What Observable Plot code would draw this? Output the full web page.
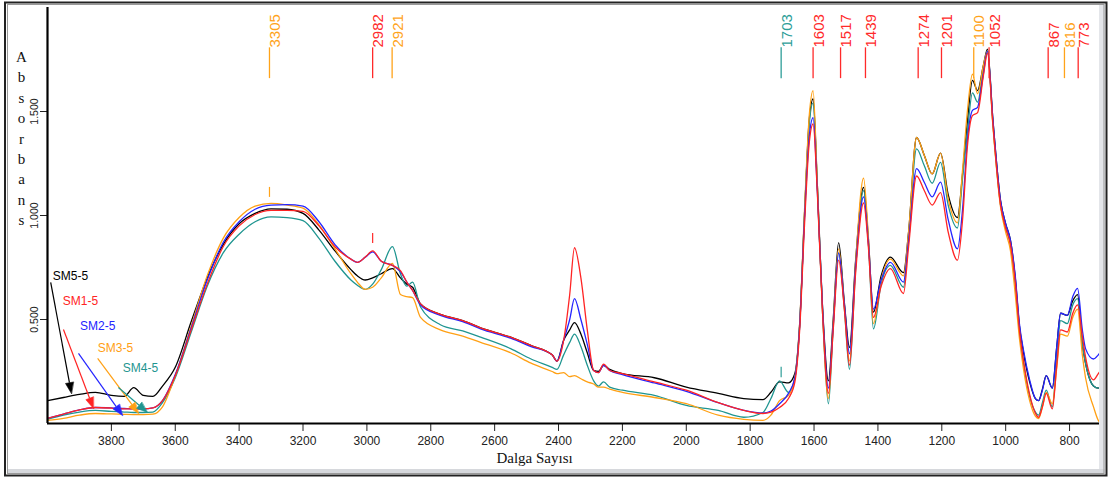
<!DOCTYPE html>
<html>
<head>
<meta charset="utf-8">
<script src="https://cdn.jsdelivr.net/npm/d3@7"></script>
<script src="https://cdn.jsdelivr.net/npm/@observablehq/plot@0.6"></script>
<style>
  html, body { margin: 0; padding: 0; background: #fff; }
  #chart { position: relative; width: 1113px; height: 479px; }
</style>
</head>
<body>
<div id="chart"></div>
<script>
// Wavenumbers (cm-1)
const wn = [4000,3950,3900,3850,3800,3760,3730,3700,3670,3640,3600,3550,3500,3450,3400,3350,3300,3250,3200,3150,3100,3050,3030,3005,2982,2955,2920,2895,2875,2857,2832,2770,2700,2644,2550,2486,2420,2405,2384,2365,2350,2330,2310,2290,2275,2259,2240,2200,2100,2000,1900,1820,1760,1735,1708,1680,1660,1645,1630,1615,1603,1590,1573,1555,1540,1523,1505,1489,1470,1445,1430,1414,1390,1361,1320,1304,1279,1255,1230,1204,1180,1151,1135,1120,1104,1088,1070,1057,1040,1016,1000,985,970,957,944,925,907,897,885,873,854,840,828,807,790,775,760,750,725,710,700];
// Absorbance of each sample
const sm1 = [0.025,0.045,0.065,0.077,0.074,0.07,0.07,0.07,0.075,0.11,0.23,0.45,0.67,0.85,0.95,1.005,1.025,1.025,1.02,0.95,0.85,0.79,0.775,0.80,0.83,0.78,0.76,0.735,0.68,0.64,0.575,0.525,0.495,0.46,0.415,0.375,0.33,0.30,0.40,0.62,0.845,0.70,0.45,0.255,0.245,0.285,0.255,0.24,0.20,0.16,0.10,0.063,0.048,0.055,0.077,0.12,0.20,0.45,0.95,1.35,1.44,1.12,0.52,0.145,0.45,0.785,0.55,0.28,0.72,1.06,0.85,0.51,0.66,0.745,0.625,0.85,1.19,1.12,1.05,1.11,0.92,0.785,0.98,1.33,1.48,1.495,1.67,1.78,1.44,1.05,0.94,0.86,0.68,0.45,0.30,0.14,0.05,0.03,0.08,0.145,0.07,0.28,0.45,0.44,0.53,0.57,0.42,0.32,0.21,0.24,0.26];
const sm2 = [0.025,0.045,0.065,0.077,0.075,0.072,0.07,0.07,0.075,0.11,0.235,0.46,0.69,0.87,0.97,1.03,1.05,1.052,1.045,0.97,0.86,0.79,0.775,0.80,0.825,0.78,0.76,0.73,0.68,0.64,0.57,0.52,0.49,0.455,0.41,0.37,0.33,0.30,0.40,0.50,0.60,0.50,0.38,0.255,0.245,0.28,0.255,0.235,0.195,0.155,0.10,0.063,0.05,0.06,0.095,0.145,0.22,0.47,0.98,1.38,1.47,1.13,0.54,0.17,0.47,0.82,0.57,0.335,0.75,1.09,0.87,0.55,0.69,0.775,0.68,0.88,1.225,1.16,1.09,1.16,0.98,0.84,1.03,1.36,1.505,1.52,1.68,1.79,1.46,1.07,0.96,0.88,0.71,0.48,0.35,0.21,0.12,0.11,0.16,0.23,0.17,0.37,0.53,0.52,0.61,0.65,0.45,0.36,0.31,0.33,0.35];
const sm3 = [0.015,0.025,0.04,0.048,0.046,0.044,0.043,0.043,0.045,0.08,0.23,0.47,0.71,0.89,0.99,1.045,1.058,1.05,1.035,0.955,0.84,0.72,0.68,0.645,0.655,0.70,0.77,0.62,0.61,0.605,0.51,0.45,0.42,0.39,0.34,0.29,0.25,0.24,0.245,0.225,0.23,0.215,0.20,0.19,0.175,0.175,0.165,0.15,0.125,0.095,0.04,0.02,0.015,0.04,0.11,0.135,0.22,0.48,1.02,1.48,1.60,1.16,0.52,0.12,0.48,0.84,0.56,0.30,0.77,1.18,0.90,0.48,0.69,0.79,0.71,0.92,1.375,1.29,1.20,1.30,1.08,0.965,1.22,1.50,1.68,1.585,1.72,1.79,1.43,1.04,0.92,0.83,0.62,0.41,0.26,0.11,0.035,0.024,0.08,0.15,0.095,0.27,0.43,0.42,0.51,0.55,0.33,0.22,0.08,0.015,0.0];
const sm4 = [0.02,0.04,0.055,0.063,0.058,0.055,0.053,0.053,0.055,0.10,0.22,0.44,0.66,0.82,0.91,0.97,0.993,0.99,0.975,0.89,0.78,0.69,0.665,0.645,0.67,0.74,0.85,0.72,0.66,0.68,0.56,0.475,0.445,0.415,0.36,0.31,0.27,0.26,0.33,0.39,0.43,0.37,0.28,0.205,0.18,0.20,0.175,0.16,0.135,0.087,0.063,0.03,0.053,0.12,0.205,0.15,0.22,0.47,1.0,1.44,1.54,1.15,0.52,0.095,0.46,0.82,0.55,0.26,0.74,1.12,0.87,0.455,0.67,0.76,0.655,0.90,1.32,1.24,1.155,1.255,1.05,0.94,1.18,1.40,1.59,1.545,1.70,1.79,1.44,1.05,0.94,0.86,0.67,0.44,0.29,0.13,0.055,0.04,0.10,0.16,0.08,0.32,0.495,0.48,0.57,0.60,0.38,0.29,0.18,0.17,0.18];
const sm5 = [0.11,0.125,0.14,0.15,0.135,0.13,0.172,0.135,0.13,0.18,0.27,0.49,0.70,0.86,0.96,1.01,1.032,1.03,1.01,0.93,0.83,0.74,0.71,0.69,0.70,0.72,0.745,0.70,0.67,0.655,0.575,0.525,0.495,0.46,0.415,0.375,0.33,0.30,0.40,0.45,0.485,0.43,0.34,0.255,0.25,0.28,0.26,0.24,0.22,0.175,0.145,0.12,0.115,0.15,0.20,0.195,0.24,0.48,1.0,1.46,1.56,1.16,0.55,0.205,0.50,0.87,0.58,0.365,0.78,1.135,0.89,0.535,0.71,0.80,0.725,0.92,1.375,1.29,1.20,1.30,1.10,0.99,1.20,1.45,1.65,1.60,1.72,1.80,1.46,1.07,0.96,0.88,0.70,0.47,0.34,0.20,0.12,0.11,0.165,0.23,0.17,0.37,0.53,0.52,0.59,0.62,0.38,0.29,0.18,0.17,0.18];

const seriesNames = ["SM5-5","SM4-5","SM3-5","SM2-5","SM1-5"];
const seriesValues = [sm5, sm4, sm3, sm2, sm1];
const colors = {"SM1-5": "#ff2424", "SM2-5": "#2424ff", "SM3-5": "#ffa014", "SM4-5": "#1f9590", "SM5-5": "#000000"};

// Peak annotations
const peakWn = [3305, 2982, 2921, 1703, 1603, 1517, 1439, 1274, 1201, 1100, 1052, 867, 816, 773];
const peakColor = ["#ffa31a","#ff2a2a","#ffa31a","#2e9e98","#ff2a2a","#ff2a2a","#ff2a2a","#ff2a2a","#ff2a2a","#ffa31a","#ff2a2a","#ff2a2a","#ffa31a","#ff2a2a"];
// small peak markers on the curves
const markWn = [3305, 2982, 1703];
const markLo = [1.087, 0.865, 0.22];
const markHi = [1.135, 0.913, 0.27];
const markColor = ["#ffa31a","#ff2a2a","#2e9e98"];

// Legend labels and arrows (wavenumber / absorbance coordinates)
const legendNames = ["SM5-5","SM1-5","SM2-5","SM3-5","SM4-5"];
const legendX = [3928, 3897, 3843, 3787, 3709];
const legendY = [0.71, 0.59, 0.47, 0.36, 0.264];
const arrowX1 = [3990, 3950, 3903, 3843, 3778];
const arrowY1 = [0.678, 0.452, 0.337, 0.313, 0.173];
const arrowX2 = [3925, 3856, 3765, 3715, 3687];
const arrowY2 = [0.144, 0.072, 0.038, 0.048, 0.053];

const xTicks = [3800,3600,3400,3200,3000,2800,2600,2400,2200,2000,1800,1600,1400,1200,1000,800];
const yTicks = [0.5, 1.0, 1.5];

const W = 1113, H = 479, mL = 47, mR = 12, mT = 7, mB = 56;
const xDomain = [4000, 700], yDomain = [0, 2.0];

const rows = [];
seriesNames.forEach((name, k) => {
  wn.forEach((w, i) => rows.push({series: name, w, a: seriesValues[k][i]}));
});
const peaks = peakWn.map((w, i) => ({w, color: peakColor[i]}));
const marks = markWn.map((w, i) => ({w, lo: markLo[i], hi: markHi[i], color: markColor[i]}));

// scales used to shape the filled arrow heads in pixel space
const sx = Plot.scale({x: {domain: xDomain, range: [mL, W - mR]}});
const sy = Plot.scale({y: {domain: yDomain, range: [H - mB, mT]}});
const legend = [];
const heads = [];
legendNames.forEach((n, i) => {
  const px1 = sx.apply(arrowX1[i]), py1 = sy.apply(arrowY1[i]);
  const px2 = sx.apply(arrowX2[i]), py2 = sy.apply(arrowY2[i]);
  const dx = px2 - px1, dy = py2 - py1, L = Math.hypot(dx, dy);
  const ux = dx / L, uy = dy / L;
  const hl = 11, hw = 4;
  const bx = px2 - ux * hl, by = py2 - uy * hl;
  legend.push({n, x: legendX[i], y: legendY[i], x1: arrowX1[i], y1: arrowY1[i],
    x2: sx.invert(bx), y2: sy.invert(by), color: colors[n]});
  [[px2, py2], [bx - uy * hw, by + ux * hw], [bx + uy * hw, by - ux * hw]].forEach(([qx, qy]) =>
    heads.push({n, x: sx.invert(qx), y: sy.invert(qy), color: colors[n]}));
});

const plot = Plot.plot({
  width: W,
  height: H,
  marginLeft: mL,
  marginRight: mR,
  marginTop: mT,
  marginBottom: mB,
  style: {background: "#fff", fontFamily: "Liberation Sans, Arial, sans-serif"},
  x: {domain: xDomain},
  y: {domain: yDomain},
  marks: [
    Plot.axisX({ticks: xTicks, tickSize: 8, tickPadding: 5, fontSize: 12, tickFormat: d => String(d), label: null, color: "#222"}),
    Plot.axisY({ticks: yTicks, tickSize: 7, tickPadding: 3, tickRotate: -90, fontSize: 10.5, tickFormat: d3.format(".3f"), label: null, color: "#222"}),
    Plot.line(rows, {x: "w", y: "a", z: "series", stroke: d => colors[d.series], strokeWidth: 1.3, curve: "monotone-x", clip: true}),
    Plot.ruleX(marks, {x: "w", y1: "lo", y2: "hi", stroke: "color", strokeWidth: 1.2}),
    Plot.ruleX(peaks, {x: "w", y1: 1.658, y2: 1.806, stroke: "color", strokeWidth: 1.3}),
    Plot.text(peaks, {x: "w", frameAnchor: "top", dy: 40, rotate: -90, textAnchor: "start", text: d => String(d.w), fill: "color", fontSize: 15}),
    Plot.link(legend, {x1: "x1", y1: "y1", x2: "x2", y2: "y2", stroke: "color", strokeWidth: 1.2}),
    Plot.line(heads, {x: "x", y: "y", z: "n", fill: "color", stroke: "color", strokeWidth: 0.6, curve: "linear-closed"}),
    Plot.text(legend, {x: "x", y: "y", text: "n", fill: "color", fontSize: 12}),
    Plot.ruleY([0], {strokeWidth: 2.2, stroke: "#000"}),
    Plot.ruleX([4000], {strokeWidth: 2.2, stroke: "#000"}),
    Plot.text(["A\nb\ns\no\nr\nb\na\nn\ns"], {frameAnchor: "top-left", dx: -26, dy: 40, textAnchor: "middle", lineAnchor: "top", lineHeight: 1.36, fontSize: 15, fontFamily: "Liberation Serif, Times New Roman, serif", fill: "#111"}),
    Plot.text(["Dalga Sayısı"], {x: 2475, frameAnchor: "bottom", dy: 39, fontSize: 15, fontFamily: "Liberation Serif, Times New Roman, serif", fill: "#111"})
  ]
});

document.getElementById("chart").appendChild(plot);

// window-like border around the chart
const svg = d3.select(plot);
svg.append("rect").attr("x", 1099).attr("y", 4).attr("width", 6).attr("height", 470).attr("fill", "#e4e6ea");
svg.append("rect").attr("x", 7).attr("y", 469).attr("width", 1098).attr("height", 5).attr("fill", "#d6d8dc");
svg.append("rect").attr("x", 5).attr("y", 2.5).attr("width", 1101.5).attr("height", 473).attr("fill", "none").attr("stroke", "#222").attr("stroke-width", 2);
svg.append("rect").attr("x", 7.5).attr("y", 4.5).attr("width", 1096.5).attr("height", 469).attr("fill", "none").attr("stroke", "#999").attr("stroke-width", 1);
</script>
</body>
</html>
